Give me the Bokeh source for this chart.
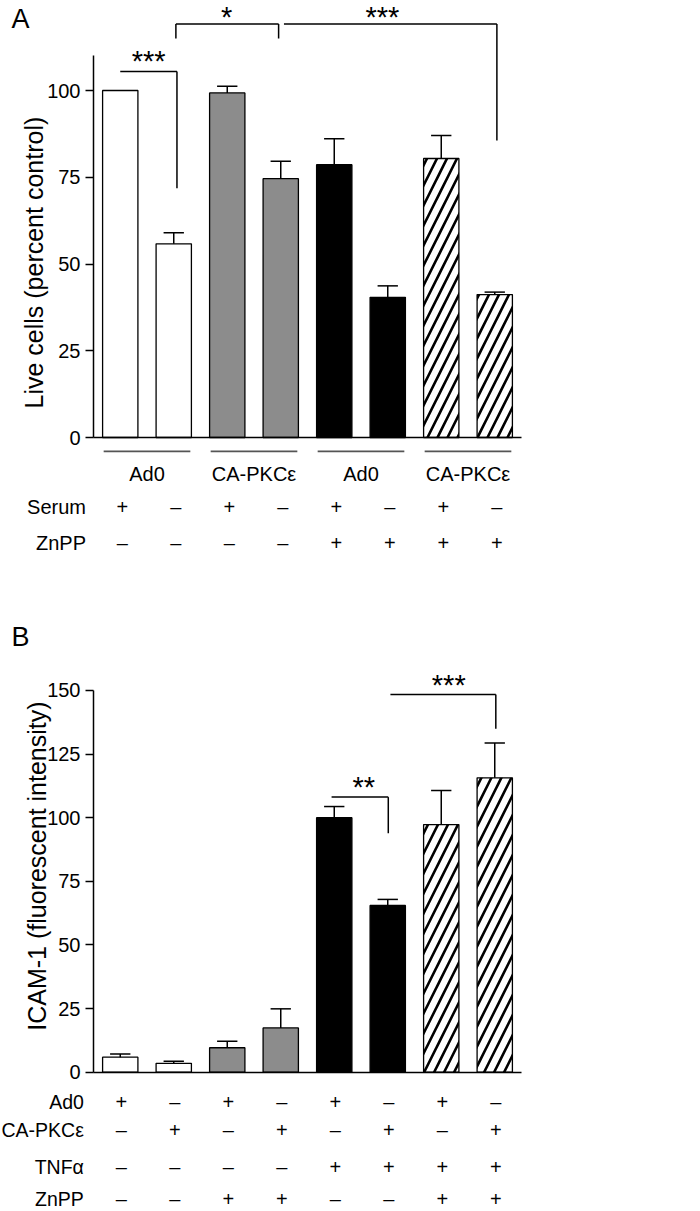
import numpy as np
from bokeh.plotting import figure
from bokeh.layouts import column
from bokeh.models import FixedTicker
from bokeh.core.properties import value
from bokeh.embed import file_html
from bokeh.resources import INLINE

# ---------------- data ----------------
bar_idx = [0, 1, 2, 3, 4, 5, 6, 7]
bar_fill = ["white", "white", "#8c8c8c", "#8c8c8c", "black", "black", "white", "white"]
bar_hatch = [" ", " ", " ", " ", " ", " ", "/", "/"]

# Panel A: live cells (percent control)
a_means = [100.0, 55.8, 99.3, 74.6, 78.6, 40.4, 80.4, 41.2]
a_errs = [0.0, 3.2, 1.9, 5.0, 7.5, 3.3, 6.6, 0.7]
a_yticks = [0, 25, 50, 75, 100]
a_groups = ["Ad0", "CA-PKCε", "Ad0", "CA-PKCε"]
a_row_names = ["Serum", "ZnPP"]
a_serum = ["+", "–", "+", "–", "+", "–", "+", "–"]
a_znpp = ["–", "–", "–", "–", "+", "+", "+", "+"]
a_ylabel = "Live cells (percent control)"
# significance brackets
a_sig_x0 = [0.0, 1.04, 3.06]
a_sig_x1 = [1.06, 2.96, 7.04]
a_sig_y = [105.5, 119.2, 119.2]
a_sig_left_to = [None, 115.0, None]
a_sig_right_to = [71.8, 115.0, 85.6]
a_sig_text = ["***", "*", "***"]
a_sig_text_x = [0.53, 1.99, 4.9]

# Panel B: ICAM-1 (fluorescent intensity)
b_means = [5.9, 3.5, 9.6, 17.4, 100.0, 65.5, 97.3, 115.7]
b_errs = [1.3, 0.8, 2.6, 7.5, 4.4, 2.4, 13.4, 13.7]
b_yticks = [0, 25, 50, 75, 100, 125, 150]
b_row_names = ["Ad0", "CA-PKCε", "TNFα", "ZnPP"]
b_ad0 = ["+", "–", "+", "–", "+", "–", "+", "–"]
b_pkc = ["–", "+", "–", "+", "–", "+", "–", "+"]
b_tnf = ["–", "–", "–", "–", "+", "+", "+", "+"]
b_znpp = ["–", "–", "+", "+", "–", "–", "+", "+"]
b_ylabel = "ICAM-1 (fluorescent intensity)"
b_sig_x0 = [3.95, 5.05]
b_sig_x1 = [5.01, 7.02]
b_sig_y = [108.1, 148.4]
b_sig_left_to = [None, None]
b_sig_right_to = [93.9, 135.0]
b_sig_text = ["**", "***"]
b_sig_text_x = [4.55, 6.14]

# ---------------- style / layout ----------------
FONT = "Liberation Sans, Arial, sans-serif"
W = 528
PX_PER_X = 53.5
AXIS_PX = 93
X0 = -0.5 - AXIS_PX / PX_PER_X
X1 = X0 + W / PX_PER_X
BAR_W = 0.66
CAP = 0.19


def make_panel(height, scale, base_px, means, errs, yticks, ybound, ylabel, ylabel_pos,
               letter, letter_top_px, sig, star_offsets):
    y_end = base_px / scale
    y_start = (base_px - height) / scale
    p = figure(width=W, height=height, x_range=(X0, X1), y_range=(y_start, y_end),
               output_backend="svg", toolbar_location=None,
               min_border_left=0, min_border_right=0, min_border_top=0, min_border_bottom=0)
    p.outline_line_color = None
    p.xgrid.visible = False
    p.ygrid.visible = False
    p.background_fill_color = "white"
    p.border_fill_color = "white"

    # axes
    p.yaxis.fixed_location = -0.5
    p.yaxis.bounds = (0, ybound)
    p.yaxis.ticker = FixedTicker(ticks=yticks)
    p.yaxis.minor_tick_line_color = None
    p.yaxis.major_tick_in = 0
    p.yaxis.major_tick_out = 8
    p.yaxis.axis_line_width = 1.5
    p.yaxis.major_tick_line_width = 1.5
    p.yaxis.major_label_text_font = FONT
    p.yaxis.major_label_text_font_size = "20px"
    p.yaxis.major_label_text_color = "black"
    p.yaxis.major_label_standoff = 5

    p.xaxis.fixed_location = 0
    p.xaxis.bounds = (-0.5, 7.5)
    p.xaxis.ticker = FixedTicker(ticks=[])
    p.xaxis.major_label_text_font_size = "0px"
    p.xaxis.major_tick_line_color = None
    p.xaxis.minor_tick_line_color = None
    p.xaxis.axis_line_width = 1.5

    # bars
    p.vbar(x=bar_idx, top=means, bottom=0, width=BAR_W, fill_color=bar_fill,
           line_color="black", line_width=1.3, hatch_pattern=bar_hatch,
           hatch_color="black", hatch_weight=2.6, hatch_scale=20)
    # error bars (upper only)
    up = [m + e for m, e in zip(means, errs)]
    keep = [i for i in bar_idx if errs[i] > 0]
    p.segment(x0=[bar_idx[i] for i in keep], y0=[means[i] for i in keep],
              x1=[bar_idx[i] for i in keep], y1=[up[i] for i in keep],
              line_color="black", line_width=1.5)
    p.segment(x0=[bar_idx[i] - CAP for i in keep], y0=[up[i] for i in keep],
              x1=[bar_idx[i] + CAP for i in keep], y1=[up[i] for i in keep],
              line_color="black", line_width=1.5)

    # significance brackets
    x0s, x1s, ys, lefts, rights, texts, txs = sig
    p.segment(x0=x0s, y0=ys, x1=x1s, y1=ys, line_color="black", line_width=1.5)
    vx, vy0, vy1 = [], [], []
    for a, b, y, l, r in zip(x0s, x1s, ys, lefts, rights):
        if l is not None:
            vx.append(a); vy0.append(y); vy1.append(l)
        if r is not None:
            vx.append(b); vy0.append(y); vy1.append(r)
    p.segment(x0=vx, y0=vy0, x1=vx, y1=vy1, line_color="black", line_width=1.5)
    p.text(x=txs, y=ys, text=texts, text_align="center", text_baseline="middle",
           y_offset=star_offsets, text_font=value(FONT), text_font_size="29px",
           text_color="black")

    # y-axis label
    p.text(x=[ylabel_pos[0]], y=[ylabel_pos[1]], text=[ylabel], angle=np.pi / 2,
           text_align="center", text_baseline="middle", text_font=value(FONT),
           text_font_size="25px", text_color="black")
    # panel letter
    p.text(x=[X0 + 11 / PX_PER_X], y=[(base_px - letter_top_px) / scale], text=[letter],
           text_align="left", text_baseline="top", text_font=value(FONT),
           text_font_size="27px", text_color="black")
    return p


# ---- Panel A ----
A_H, A_SCALE, A_BASE = 608, 3.47, 437.0
pA = make_panel(A_H, A_SCALE, A_BASE, a_means, a_errs, a_yticks, 110,
                a_ylabel, (-1.62, 50.4), "A", 3.0,
                (a_sig_x0, a_sig_x1, a_sig_y, a_sig_left_to, a_sig_right_to, a_sig_text,
                 a_sig_text_x), [-10, -7, -7])
# group lines and labels
gx0 = [2 * g - 0.31 for g in range(len(a_groups))]
gx1 = [2 * g + 1.31 for g in range(len(a_groups))]
pA.segment(x0=gx0, y0=[-4.0] * 4, x1=gx1, y1=[-4.0] * 4, line_color="#555555", line_width=1.6)
pA.text(x=[2 * g + 0.5 for g in range(len(a_groups))], y=[-10.6] * 4, text=a_groups,
        text_align="center", text_baseline="middle", text_font=value(FONT),
        text_font_size="20px", text_color="black")
a_rows = [a_serum, a_znpp]
a_row_y = [-19.9, -30.3]
for name, signs, ry in zip(a_row_names, a_rows, a_row_y):
    pA.text(x=[-0.64], y=[ry], text=[name], text_align="right", text_baseline="middle",
            text_font=value(FONT), text_font_size="20px", text_color="black")
    pA.text(x=[i + 0.04 for i in bar_idx], y=[ry] * 8, text=signs, text_align="center",
            text_baseline="middle", text_font=value(FONT), text_font_size="20px",
            text_color="black")

# ---- Panel B ----
B_H, B_SCALE, B_BASE = 603, 2.5447, 463.7
pB = make_panel(B_H, B_SCALE, B_BASE, b_means, b_errs, b_yticks, 150,
                b_ylabel, (-1.55, 81.0), "B", 13.5,
                (b_sig_x0, b_sig_x1, b_sig_y, b_sig_left_to, b_sig_right_to, b_sig_text,
                 b_sig_text_x), [-10, -10])
b_rows = [b_ad0, b_pkc, b_tnf, b_znpp]
b_row_y = [-11.9, -22.6, -37.4, -50.0]
for name, signs, ry in zip(b_row_names, b_rows, b_row_y):
    pB.text(x=[-0.68], y=[ry], text=[name], text_align="right", text_baseline="middle",
            text_font=value(FONT), text_font_size="19.5px", text_color="black")
    pB.text(x=[i + 0.02 for i in bar_idx], y=[ry] * 8, text=signs, text_align="center",
            text_baseline="middle", text_font=value(FONT), text_font_size="20px",
            text_color="black")

layout = column(pA, pB, spacing=0)
open("out.html", "w").write(file_html(layout, INLINE))
